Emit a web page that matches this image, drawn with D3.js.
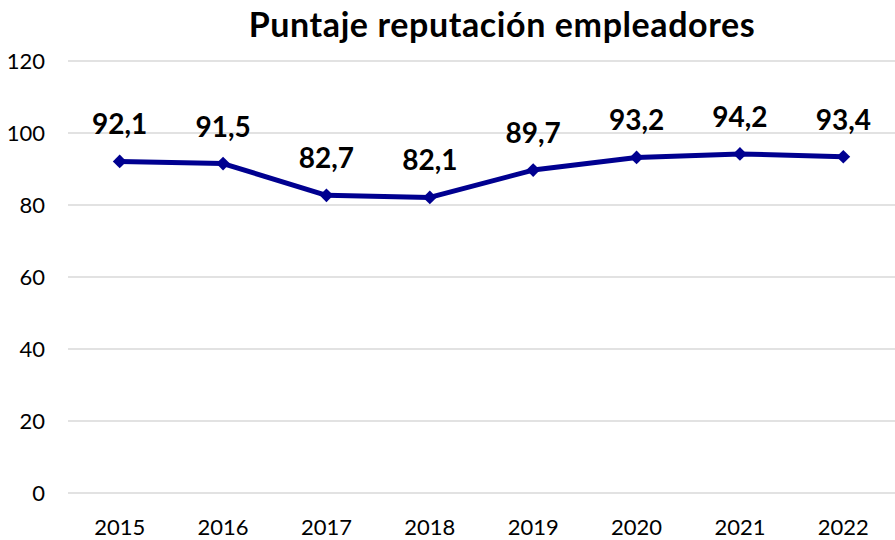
<!DOCTYPE html>
<html>
<head>
<meta charset="utf-8">
<script src="https://cdn.jsdelivr.net/npm/d3@7"></script>
<style>
  body { margin: 0; background: #fff; }
  svg { display: block; font-family: Lato, "Open Sans", sans-serif; }
</style>
</head>
<body>
<svg id="chart" width="895" height="540"></svg>
<script>
const years = ["2015", "2016", "2017", "2018", "2019", "2020", "2021", "2022"];
const scores = [92.1, 91.5, 82.7, 82.1, 89.7, 93.2, 94.2, 93.4];
const yTicks = [0, 20, 40, 60, 80, 100, 120];

const width = 895;
const height = 540;
const margin = { top: 61, right: 0, bottom: 47, left: 68 };

const svg = d3.select("#chart");

const x = d3
  .scaleBand()
  .domain(years)
  .range([margin.left, width - margin.right]);

const y = d3
  .scaleLinear()
  .domain([0, 120])
  .range([height - margin.bottom, margin.top]);

const formatLabel = (value) => d3.format(".1f")(value).replace(".", ",");

// gridlines
svg
  .append("g")
  .selectAll("line")
  .data(yTicks)
  .join("line")
  .attr("x1", margin.left)
  .attr("x2", width - margin.right)
  .attr("y1", (d) => y(d))
  .attr("y2", (d) => y(d))
  .attr("stroke", "#d9d9d9")
  .attr("stroke-width", 1.5);

// y axis labels
const yAxis = svg
  .append("g")
  .attr("transform", `translate(${margin.left - 23},0)`)
  .call(d3.axisLeft(y).tickValues(yTicks).tickSize(0).tickPadding(0));
yAxis.select(".domain").remove();
yAxis
  .selectAll("text")
  .attr("font-size", 22)
  .attr("fill", "#000")
  .style("font-family", "Lato, 'Open Sans', sans-serif");

// x axis labels
const xAxis = svg
  .append("g")
  .attr("transform", `translate(0,${height - margin.bottom + 26})`)
  .call(d3.axisBottom(x).tickSize(0).tickPadding(0));
xAxis.select(".domain").remove();
xAxis
  .selectAll("text")
  .attr("font-size", 22)
  .attr("fill", "#000")
  .style("font-family", "Lato, 'Open Sans', sans-serif");

const points = years.map((year, i) => ({ year, value: scores[i] }));
const cx = (d) => x(d.year) + x.bandwidth() / 2;

const line = d3
  .line()
  .x(cx)
  .y((d) => y(d.value));

svg
  .append("path")
  .datum(points)
  .attr("d", line)
  .attr("fill", "none")
  .attr("stroke", "#000090")
  .attr("stroke-width", 5)
  .attr("stroke-linejoin", "round");

svg
  .append("g")
  .selectAll("path")
  .data(points)
  .join("path")
  .attr("d", d3.symbol(d3.symbolDiamond2, 120))
  .attr("transform", (d) => `translate(${cx(d)},${y(d.value)})`)
  .attr("fill", "#000090");

svg
  .append("g")
  .selectAll("text")
  .data(points)
  .join("text")
  .attr("x", cx)
  .attr("y", (d) => y(d.value) - 27)
  .attr("text-anchor", "middle")
  .attr("font-size", 28)
  .attr("font-weight", "bold")
  .attr("fill", "#000")
  .text((d) => formatLabel(d.value));

svg
  .append("text")
  .attr("x", 502)
  .attr("y", 37)
  .attr("text-anchor", "middle")
  .attr("font-size", 34)
  .attr("font-weight", "bold")
  .attr("letter-spacing", 0.6)
  .attr("fill", "#000")
  .text("Puntaje reputación empleadores");
</script>
</body>
</html>
